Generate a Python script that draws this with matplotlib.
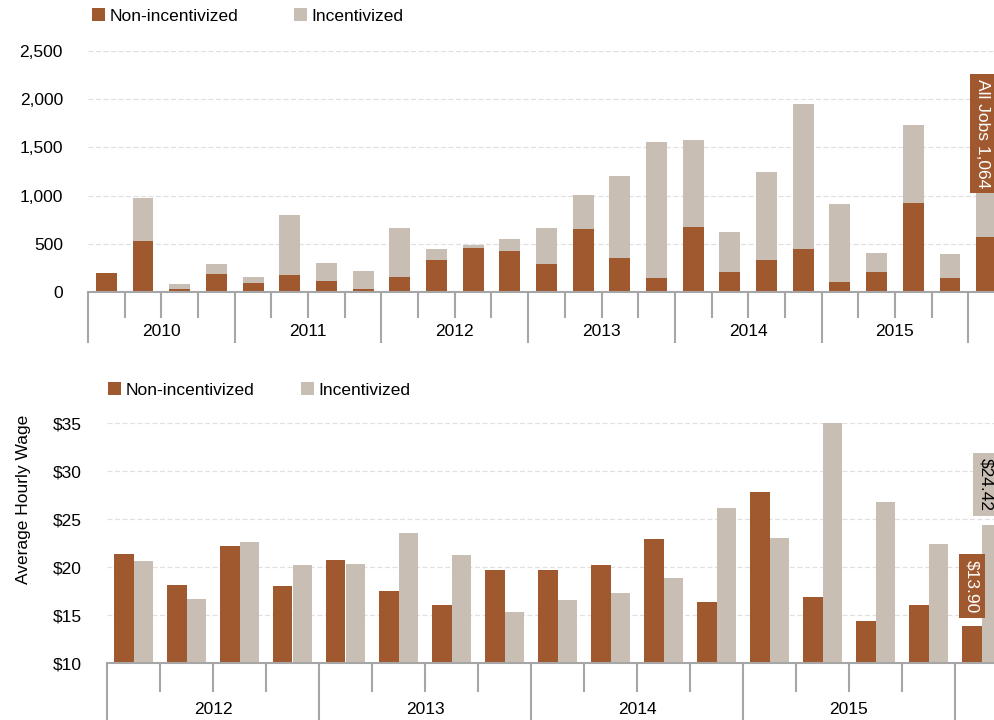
import matplotlib
matplotlib.use("Agg")
import matplotlib.pyplot as plt
import matplotlib.transforms as mtrans
import numpy as np

### data
years_top = ["2010", "2011", "2012", "2013", "2014", "2015"]
jobs_non = [200, 532, 35, 187, 97, 176, 118, 35, 159, 335, 453, 422,
            290, 657, 356, 142, 674, 211, 335, 446, 107, 211, 926, 148, 571]
jobs_total = [200, 978, 83, 287, 156, 799, 301, 215, 661, 449, 488, 550,
              664, 1003, 1207, 1556, 1580, 622, 1245, 1947, 913, 408, 1732, 394, 1064]
jobs_inc = [t - n for t, n in zip(jobs_total, jobs_non)]

years_bot = ["2012", "2013", "2014", "2015"]
wage_non = [21.4, 18.2, 22.25, 18.05, 20.75, 17.5, 16.1, 19.7,
            19.7, 20.25, 23.0, 16.4, 27.85, 16.9, 14.4, 16.1, 13.90]
wage_inc = [20.7, 16.7, 22.6, 20.25, 20.35, 23.55, 21.3, 15.35,
            16.6, 17.3, 18.9, 26.2, 23.05, 35.0, 26.8, 22.4, 24.42]

brown = "#a0582f"
grey = "#c9beb3"
axcol = "#a6a6a6"
gridcol = "#e0e0e0"

plt.rcParams.update({"font.family": ["Liberation Sans", "DejaVu Sans"],
                     "font.size": 12.5, "text.color": "black"})

fig = plt.figure(figsize=(9.94, 7.2), dpi=100)
W, H = 994.0, 720.0


def setup_axis(ax, n, ymin, ymax, yticks, ylabels, long_len, short_len, year_names, year_y):
    ax.set_xlim(-0.5, n - 0.5)
    ax.set_ylim(ymin, ymax)
    for s in ["top", "right", "left"]:
        ax.spines[s].set_visible(False)
    ax.spines["bottom"].set_color(axcol)
    ax.spines["bottom"].set_linewidth(1.5)
    ax.set_yticks(yticks)
    ax.set_yticklabels(ylabels)
    ax.tick_params(axis="y", length=0, pad=18)
    ax.yaxis.grid(True, color=gridcol, linestyle=(0, (4, 2)), lw=0.9)
    ax.set_axisbelow(True)
    # year boundaries: long ticks, quarter boundaries: short ticks
    bounds = np.arange(-0.5, n, 1.0)
    year_b = [b for i, b in enumerate(bounds) if i % 4 == 0]
    quar_b = [b for i, b in enumerate(bounds) if i % 4 != 0]
    ax.set_xticks(year_b)
    ax.set_xticklabels([])
    ax.set_xticks(quar_b, minor=True)
    ax.tick_params(axis="x", which="major", length=long_len * 0.72, width=1.5, color=axcol, direction="out")
    ax.tick_params(axis="x", which="minor", length=short_len * 0.72, width=1.5, color=axcol, direction="out")
    trans = mtrans.blended_transform_factory(ax.transData, fig.transFigure)
    for k, yr in enumerate(year_names):
        ax.text(4 * k + 1.5, 1 - year_y / H, yr, transform=trans, ha="center", va="center")


def add_legend(ax, x, y, spacing):
    ax.legend(loc="center left", bbox_to_anchor=(x / W, (H - y) / H), bbox_transform=fig.transFigure,
              ncol=2, frameon=False, handlelength=0.75, handleheight=0.75, handletextpad=0.25,
              columnspacing=spacing, borderaxespad=0, borderpad=0)


### top: jobs
ax1 = fig.add_axes([88 / W, (H - 292) / H, (1005 - 88) / W, 241 / H])
x1 = np.arange(len(jobs_non))
ax1.bar(x1, jobs_non, width=0.57, color=brown, label="Non-incentivized", zorder=2)
ax1.bar(x1, jobs_inc, width=0.57, bottom=jobs_non, color=grey, label="Incentivized", zorder=2)
setup_axis(ax1, len(jobs_non), 0, 2500, np.arange(0, 2501, 500),
           ["0", "500", "1,000", "1,500", "2,000", "2,500"], 51, 26, years_top, 332)
ax1.text(23.9, 1644, "All Jobs 1,064", rotation=270, ha="center", va="center", color="white",
         bbox=dict(boxstyle="square,pad=0.3", fc=brown, ec="none"), zorder=5, clip_on=False)
add_legend(ax1, 92, 16, 3.2)

### bottom: wages
ax2 = fig.add_axes([107 / W, (H - 663.3) / H, (1008 - 107) / W, 240 / H])
x2 = np.arange(len(wage_non))
ax2.bar(x2 - 0.18, wage_non, width=0.36, color=brown, label="Non-incentivized", zorder=2)
ax2.bar(x2 + 0.18, wage_inc, width=0.36, color=grey, label="Incentivized", zorder=2)
setup_axis(ax2, len(wage_non), 10, 35, np.arange(10, 36, 5),
           ["$%d" % v for v in range(10, 36, 5)], 60, 29, years_bot, 709)
ax2.set_ylabel("Average Hourly Wage")
ax2.yaxis.set_label_coords(-76 / 901, 0.685)
ax2.text(16.08, 28.6, "$%.2f" % wage_inc[-1], rotation=270, ha="center", va="center", color="black",
         bbox=dict(boxstyle="square,pad=0.3", fc=grey, ec="none"), zorder=5, clip_on=False)
ax2.text(15.82, 18.02, "$%.2f" % wage_non[-1], rotation=270, ha="center", va="center", color="white",
         bbox=dict(boxstyle="square,pad=0.3", fc=brown, ec="none"), zorder=5, clip_on=False)
add_legend(ax2, 108, 390, 2.7)

fig.savefig("out.png", dpi=100)
